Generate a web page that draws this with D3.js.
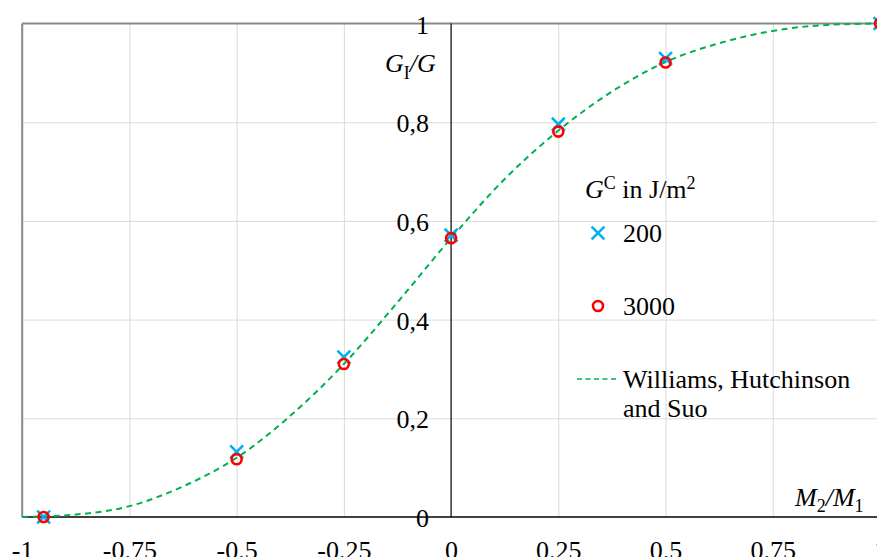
<!DOCTYPE html>
<html>
<head>
<meta charset="utf-8">
<script src="https://cdn.jsdelivr.net/npm/d3@7"></script>
<style>
  body { margin: 0; background: #fff; }
</style>
</head>
<body>
<svg id="chart" width="877" height="557"></svg>
<script>
// ---- data ----
const xTicks = [-1, -0.75, -0.5, -0.25, 0, 0.25, 0.5, 0.75, 1];
const xTickLabels = ["-1", "-0.75", "-0.5", "-0.25", "0", "0.25", "0.5", "0.75", "1"];
const yTicks = [0, 0.2, 0.4, 0.6, 0.8, 1];
const yTickLabels = ["0", "0,2", "0,4", "0,6", "0,8", "1"];

const ratioM = [-0.95, -0.5, -0.25, 0, 0.25, 0.5, 1];
const gc200 = [0.0, 0.132, 0.324, 0.571, 0.796, 0.929, 1.0];
const gc3000 = [0.0, 0.117, 0.310, 0.565, 0.781, 0.921, 1.0];

const whsX = [-1, -0.875, -0.75, -0.625, -0.5, -0.375, -0.25, -0.125, 0, 0.125, 0.25, 0.375, 0.5, 0.625, 0.75, 0.875, 1];
const whsY = [0, 0.005, 0.022, 0.062, 0.12, 0.205, 0.31, 0.435, 0.565, 0.685, 0.783, 0.862, 0.922, 0.960, 0.985, 0.997, 1.0];

// ---- pick an installed serif font ----
function pickFont(cands) {
  const c = document.createElement("canvas").getContext("2d");
  const s = "Williams, Hutchinson 0123456789";
  function w(f) { c.font = "26px " + f; return c.measureText(s).width; }
  const mono = w("monospace"), sans = w("sans-serif");
  for (const f of cands) {
    const a = w(`"${f}", monospace`), b = w(`"${f}", sans-serif`);
    if (Math.abs(a - b) < 0.01 && Math.abs(a - mono) > 0.01) return `"${f}"`;
  }
  return "serif";
}
const FONT = pickFont(["Liberation Serif", "Times New Roman", "Tinos", "Nimbus Roman", "Times", "DejaVu Serif", "Noto Serif"]) + ", serif";

// ---- layout ----
const svg = d3.select("#chart");
const x = d3.scaleLinear().domain([-1, 1]).range([22.2, 880]);
const y = d3.scaleLinear().domain([0, 1]).range([517, 23.5]);
const FS = 26;

// grid
const gridX = svg.append("g").attr("transform", `translate(0,${y(0)})`)
  .call(d3.axisBottom(x).tickValues(xTicks.filter(v => v !== -1 && v !== 0 && v !== 1))
    .tickSize(-(y(0) - y(1))).tickFormat(""));
gridX.select(".domain").remove();
gridX.selectAll("line").attr("stroke", "#dadada").attr("stroke-width", 1);

const gridY = svg.append("g").attr("transform", `translate(${x(-1)},0)`)
  .call(d3.axisLeft(y).tickValues(yTicks.filter(v => v !== 0 && v !== 1))
    .tickSize(-(x(1) - x(-1))).tickFormat(""));
gridY.select(".domain").remove();
gridY.selectAll("line").attr("stroke", "#dadada").attr("stroke-width", 1);

// borders
svg.append("line").attr("x1", x(-1)).attr("x2", x(1)).attr("y1", y(1)).attr("y2", y(1))
  .attr("stroke", "#898989").attr("stroke-width", 2);
svg.append("line").attr("x1", x(-1)).attr("x2", x(-1)).attr("y1", y(1)).attr("y2", y(0))
  .attr("stroke", "#898989").attr("stroke-width", 2);

// axis lines through origin
svg.append("line").attr("x1", x(-1)).attr("x2", x(1)).attr("y1", y(0)).attr("y2", y(0))
  .attr("stroke", "#000").attr("stroke-width", 1.6);
svg.append("line").attr("x1", x(0)).attr("x2", x(0)).attr("y1", y(1)).attr("y2", y(0))
  .attr("stroke", "#000").attr("stroke-width", 1.2);

// x tick labels
const xAxis = svg.append("g").attr("transform", `translate(0,${y(0)})`)
  .call(d3.axisBottom(x).tickValues(xTicks).tickSize(0)
    .tickFormat((d, i) => xTickLabels[i]));
xAxis.attr("font-family", FONT).attr("font-size", FS);
xAxis.select(".domain").remove();
xAxis.selectAll("text").attr("y", 42).attr("dy", 0).attr("fill", "#000");

// y tick labels
const yAxis = svg.append("g").attr("transform", `translate(${x(0) - 22},0)`)
  .call(d3.axisLeft(y).tickValues(yTicks).tickSize(0)
    .tickFormat((d, i) => yTickLabels[i]));
yAxis.attr("font-family", FONT).attr("font-size", FS);
yAxis.select(".domain").remove();
yAxis.selectAll("text").attr("x", 0).attr("dy", 9.5).attr("text-anchor", "end").attr("fill", "#000");

function txt(xp, yp) {
  return svg.append("text").attr("x", xp).attr("y", yp)
    .attr("font-family", FONT).attr("font-size", FS).attr("fill", "#000");
}

// axis titles
const yt = txt(385, 72);
yt.append("tspan").attr("font-style", "italic").text("G");
yt.append("tspan").attr("font-size", 18).attr("dy", 7).text("I");
yt.append("tspan").attr("font-style", "italic").attr("dy", -7).text("/G");

const xt = txt(795, 506);
xt.append("tspan").attr("font-style", "italic").text("M");
xt.append("tspan").attr("font-size", 18).attr("dy", 6).text("2");
xt.append("tspan").attr("font-style", "italic").attr("dy", -6).text("/M");
xt.append("tspan").attr("font-size", 18).attr("dy", 6).text("1");

// WHS curve
const line = d3.line().x(d => x(d[0])).y(d => y(d[1])).curve(d3.curveMonotoneX);
svg.append("path").datum(whsX.map((v, i) => [v, whsY[i]]))
  .attr("d", line).attr("fill", "none").attr("stroke", "#00B050")
  .attr("stroke-width", 2).attr("stroke-dasharray", "6,4.5");

// markers
const cross = d3.symbol().type(d3.symbolX).size(110);
svg.append("g").selectAll("path").data(ratioM.map((v, i) => [v, gc200[i]])).join("path")
  .attr("transform", d => `translate(${x(d[0])},${y(d[1])})`)
  .attr("d", cross).attr("fill", "none").attr("stroke", "#00B0F0").attr("stroke-width", 2.6);
svg.append("g").selectAll("circle").data(ratioM.map((v, i) => [v, gc3000[i]])).join("circle")
  .attr("cx", d => x(d[0])).attr("cy", d => y(d[1])).attr("r", 5)
  .attr("fill", "none").attr("stroke", "#FF0000").attr("stroke-width", 2.6);

// legend
const lt = txt(585, 198);
lt.append("tspan").attr("font-style", "italic").text("G");
lt.append("tspan").attr("font-size", 18).attr("dy", -9).text("C");
lt.append("tspan").attr("dy", 9).text(" in J/m");
lt.append("tspan").attr("font-size", 18).attr("dy", -9).text("2");

svg.append("path").attr("transform", "translate(598,233)").attr("d", cross)
  .attr("fill", "none").attr("stroke", "#00B0F0").attr("stroke-width", 2.6);
txt(623, 242).text("200");

svg.append("circle").attr("cx", 598).attr("cy", 306).attr("r", 5)
  .attr("fill", "none").attr("stroke", "#FF0000").attr("stroke-width", 2.6);
txt(623, 315).text("3000");

svg.append("line").attr("x1", 577).attr("x2", 616).attr("y1", 379).attr("y2", 379)
  .attr("stroke", "#00B050").attr("stroke-width", 1.6).attr("stroke-dasharray", "5,3.5");
txt(623, 388).text("Williams, Hutchinson");
txt(623, 417).text("and Suo");
</script>
</body>
</html>
